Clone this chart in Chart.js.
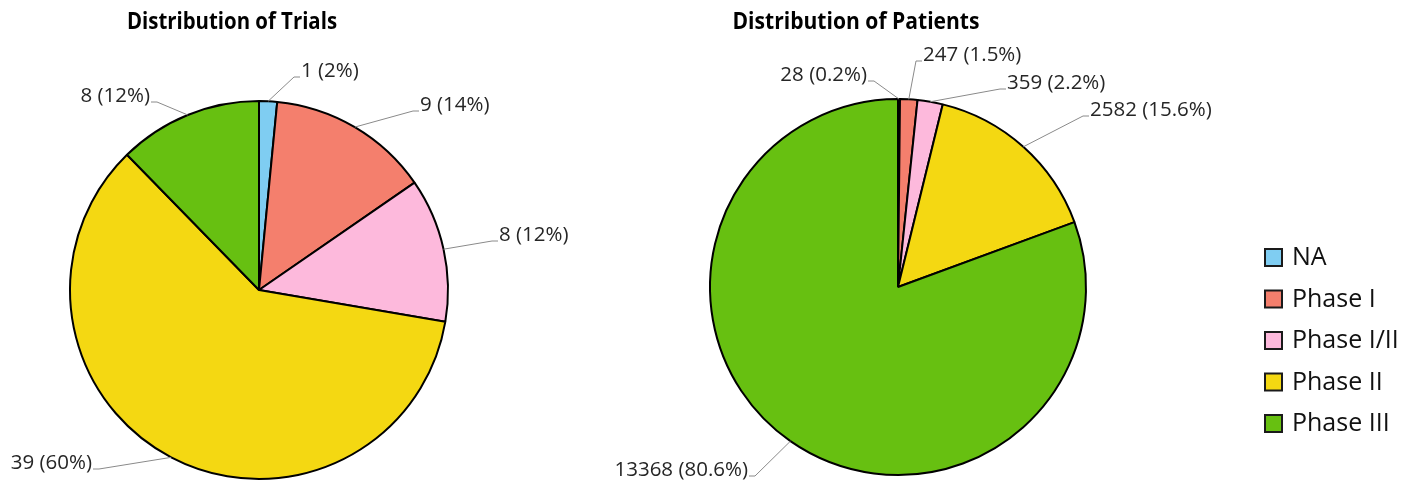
<!DOCTYPE html>
<html><head><meta charset="utf-8">
<script src="https://cdn.jsdelivr.net/npm/chart.js@4"></script>
<style>
html,body{margin:0;padding:0;background:#fff;width:1424px;height:489px;overflow:hidden}
canvas{position:absolute;top:0}
#c1{left:0}
#c2{left:600px}
</style></head>
<body>
<canvas id="c1" width="600" height="489"></canvas>
<canvas id="c2" width="824" height="489"></canvas>
<script>
// ---- data ----
const categories = ['NA', 'Phase I', 'Phase I/II', 'Phase II', 'Phase III'];
const trialCounts = [1, 9, 8, 39, 8];
const trialPercents = ['2%', '14%', '12%', '60%', '12%'];
const patientCounts = [28, 247, 359, 2582, 13368];
const patientPercents = ['0.2%', '1.5%', '2.2%', '15.6%', '80.6%'];
const trialTitle = 'Distribution of Trials';
const patientTitle = 'Distribution of Patients';

// ---- style ----
const colors = ['#7fcdf2', '#f47f6d', '#fdb9dc', '#f4d812', '#67c011'];
const FONT = '"Open Sans", "Noto Sans", sans-serif';
const LABEL_SIZE = 20.5;

// label placement (offsets of label text from pie centre), style only
const trialLabelLayout = [
  {dx: 42, dy: -219, align: 'left'},
  {dx: 161, dy: -185, align: 'left'},
  {dx: 240, dy: -55, align: 'left'},
  {dx: -167, dy: 173, align: 'right'},
  {dx: -109, dy: -194, align: 'right'}
];
const patientLabelLayout = [
  {dx: -31, dy: -212, align: 'right'},
  {dx: 25, dy: -232, align: 'left'},
  {dx: 109, dy: -204, align: 'left'},
  {dx: 192, dy: -177, align: 'left'},
  {dx: -150, dy: 183, align: 'right'}
];

function labelPlugin(counts, percents, layout, title, titleX, titleW, legend) {
  return {
    id: 'labels',
    afterDraw(chart) {
      const ctx = chart.ctx;
      const meta = chart.getDatasetMeta(0);
      ctx.save();
      // title (slightly condensed)
      ctx.font = 'bold 23px ' + FONT;
      ctx.fillStyle = '#000';
      ctx.textAlign = 'center';
      ctx.textBaseline = 'middle';
      const w = ctx.measureText(title).width;
      const sx = Math.min(1, titleW / w);
      ctx.save();
      ctx.translate(titleX, 22);
      ctx.scale(sx, 1);
      ctx.fillText(title, 0, 0);
      ctx.restore();
      // slice labels
      ctx.font = LABEL_SIZE + 'px ' + FONT;
      meta.data.forEach((arc, i) => {
        const p = arc.getProps(['x', 'y', 'startAngle', 'endAngle', 'outerRadius'], true);
        const mid = (p.startAngle + p.endAngle) / 2;
        const ex = p.x + Math.cos(mid) * p.outerRadius;
        const ey = p.y + Math.sin(mid) * p.outerRadius;
        const L = layout[i];
        const tx = p.x + L.dx, ty = p.y + L.dy;
        const ly = ty + 6;
        const dir = L.align === 'left' ? -1 : 1;
        ctx.strokeStyle = '#8a8a8a';
        ctx.lineWidth = 1;
        ctx.beginPath();
        ctx.moveTo(ex, ey);
        ctx.lineTo(tx + dir * 7, ly);
        ctx.lineTo(tx + dir * 1, ly);
        ctx.stroke();
        ctx.fillStyle = '#262626';
        ctx.textAlign = L.align;
        ctx.textBaseline = 'middle';
        ctx.fillText(counts[i] + ' (' + percents[i] + ')', tx, ty);
      });
      // legend
      if (legend) {
        ctx.font = '25px ' + FONT;
        ctx.textAlign = 'left';
        ctx.textBaseline = 'middle';
        chart.data.labels.forEach((lab, i) => {
          const y = legend.y + i * legend.step;
          ctx.fillStyle = colors[i];
          ctx.fillRect(legend.x, y - 8, 17, 17);
          ctx.strokeStyle = '#1a1a1a';
          ctx.lineWidth = 2;
          ctx.strokeRect(legend.x, y - 8, 17, 17);
          ctx.fillStyle = '#111';
          ctx.fillText(lab, legend.x + 27, y + 1);
        });
      }
      ctx.restore();
    }
  };
}

function makePie(id, counts, pad, plugin) {
  return new Chart(document.getElementById(id), {
    type: 'pie',
    data: {
      labels: categories,
      datasets: [{
        data: counts,
        backgroundColor: colors,
        borderColor: '#000',
        borderWidth: 2
      }]
    },
    options: {
      responsive: false,
      animation: false,
      layout: {padding: pad},
      plugins: {legend: {display: false}, tooltip: {enabled: false}, title: {display: false}}
    },
    plugins: [plugin]
  });
}

makePie('c1', trialCounts, {left: 69, right: 151, top: 100, bottom: 9},
  labelPlugin(trialCounts, trialPercents, trialLabelLayout, trialTitle, 232, 210, null));
makePie('c2', patientCounts, {left: 109, right: 337, top: 98, bottom: 13},
  labelPlugin(patientCounts, patientPercents, patientLabelLayout, patientTitle, 256, 247,
    {x: 665, y: 257, step: 41.5}));
</script>
</body></html>
